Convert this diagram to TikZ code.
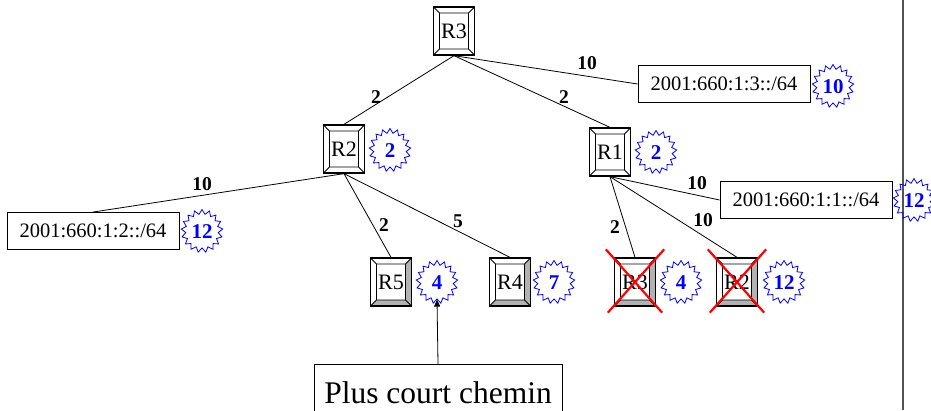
\documentclass[tikz,border=0pt]{standalone}
\usepackage{fontspec}
\setmainfont{Liberation Serif}
\usetikzlibrary{shapes.symbols,arrows.meta}
\tikzset{
  bevelfill/.style={fill=white},
  router/.style={draw, line width=1.3pt, minimum width=41pt, minimum height=48pt,
    inner sep=0pt, font=\fontsize{22}{22}\selectfont,
    path picture={
      \coordinate (q1) at (path picture bounding box.south west);
      \coordinate (q3) at (path picture bounding box.north east);
      \coordinate (q2) at (q3 |- q1);
      \coordinate (q4) at (q1 |- q3);
      \coordinate (i1) at ([shift={(6pt,6pt)}]q1);
      \coordinate (i3) at ([shift={(-6pt,-6pt)}]q3);
      \coordinate (i2) at (i3 |- i1);
      \coordinate (i4) at (i1 |- i3);
      \fill[bevelfill] (q2) -- (q3) -- (i3) -- (i2) -- cycle;
      \fill[bevelfill] (q1) -- (q2) -- (i2) -- (i1) -- cycle;
      \draw[line width=0.8pt] (i1) rectangle (i3) (q1) -- (i1) (q2) -- (i2) (q3) -- (i3) (q4) -- (i4);
    }},
  routerg/.style={router, bevelfill/.style={fill=gray!60}},
  burst/.style={starburst, starburst points=17, starburst point height=4.5pt, random starburst=0,
    draw=blue, line width=0.8pt, text=blue, font=\bfseries\fontsize{21}{21}\selectfont,
    text width=23pt, align=center, text height=14pt, text depth=0pt,
    inner xsep=0pt, inner ysep=5pt},
  addr/.style={draw, line width=0.9pt, font=\fontsize{20.5}{20.5}\selectfont, minimum width=172pt,
    minimum height=37pt, inner sep=0pt},
  lbl/.style={font=\bfseries\fontsize{19.5}{19.5}\selectfont, inner sep=0pt},
  link/.style={line width=0.8pt},
  cross/.style={draw=red, line width=2.2pt},
}
\begin{document}
\begin{tikzpicture}[x=1pt, y=-1pt]
\useasboundingbox (0,0) rectangle (931,410);
\clip (0,0) rectangle (931,410);
% vertical separator
\coordinate (vt) at (903,0);
\coordinate (vb) at (903,410);
\draw[line width=2pt, gray!65!black] (vt) -- (vb);
% routers
\node[router]  (R3)  at (454,31)  {R3};
\node[router]  (R2)  at (344,149) {R2};
\node[router]  (R1)  at (610,152) {R1};
\node[routerg] (R5)  at (391,282) {R5};
\node[routerg] (R4)  at (510,282) {R4};
\node[routerg] (R3x) at (635,282) {R3};
\node[routerg] (R2x) at (737,282) {R2};
% addresses
\node[addr] (A3) at (724,84)  {2001:660:1:3::/64};
\node[addr] (A1) at (806,200) {2001:660:1:1::/64};
\node[addr] (A2) at (93,231)  {2001:660:1:2::/64};
% bursts
\node[burst] (b2)  at (390,150) {2};
\node[burst] (b1)  at (656,152) {2};
\node[burst] (b5)  at (437,282) {4};
\node[burst] (b4)  at (554,282) {7};
\node[burst] (b3x) at (681,282) {4};
\node[burst] (b2x) at (784,282) {12};
\node[burst] (bA3) at (833,86)  {10};
\node[burst] (bA1) at (914,200) {12};
\node[burst] (bA2) at (202,231) {12};
% links
\draw[link] (R3.south) -- (R2.north);
\draw[link] (R3.south) -- (R1.north);
\draw[link] (R3.south) -- (A3.west);
\draw[link] (R2.south) -- (A2.north);
\draw[link] (R2.south) -- (R5.north);
\draw[link] (R2.south) -- (R4.north);
\draw[link] (R1.south) -- (A1.west);
\draw[link] (R1.south) -- (R3x.north);
\draw[link] (R1.south) -- (R2x.north);
% labels
\node[lbl] (l1) at (376,97)  {2};
\node[lbl] (l2) at (564,97)  {2};
\node[lbl] (l3) at (587,63)  {10};
\node[lbl] (l4) at (202,184) {10};
\node[lbl] (l5) at (384,225) {2};
\node[lbl] (l6) at (458,221) {5};
\node[lbl] (l7) at (697,183) {10};
\node[lbl] (l8) at (615,227) {2};
\node[lbl] (l9) at (703,220) {10};
% crosses
\draw[cross] ([shift={(-8pt,8pt)}]R3x.north west) -- ([shift={(6pt,-6pt)}]R3x.south east);
\draw[cross] ([shift={(8pt,8pt)}]R3x.north east) -- ([shift={(-6pt,-6pt)}]R3x.south west);
\draw[cross] ([shift={(-8pt,8pt)}]R2x.north west) -- ([shift={(6pt,-6pt)}]R2x.south east);
\draw[cross] ([shift={(8pt,8pt)}]R2x.north east) -- ([shift={(-6pt,-6pt)}]R2x.south west);
% shortest path callout
\node[draw, line width=0.9pt, minimum width=248pt, minimum height=56pt, inner sep=0pt,
  font=\fontsize{31.5}{31.5}\selectfont, anchor=north] (pc) at (438,364) {Plus court chemin};
\draw[line width=0.8pt, -{Triangle[length=7pt,width=6pt]}] (pc.north) -- (b5.south);
\end{tikzpicture}
\end{document}
